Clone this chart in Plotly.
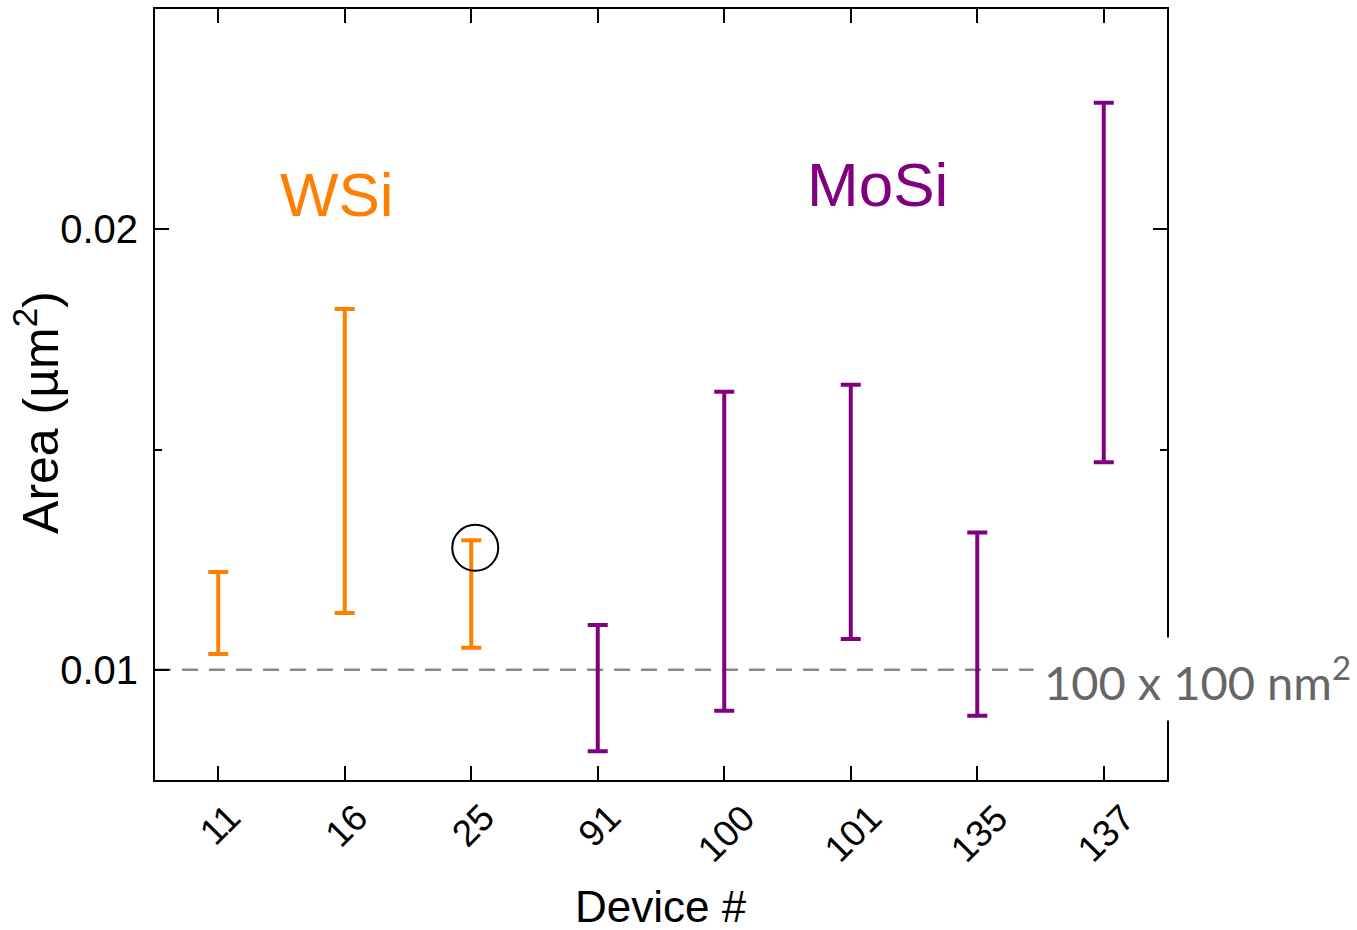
import plotly.graph_objects as go

devices = ["11", "16", "25", "91", "100", "101", "135", "137"]
area_low = [0.01036, 0.01129, 0.01050, 0.00815, 0.00907, 0.01070, 0.00896, 0.01471]
area_high = [0.01222, 0.01819, 0.01294, 0.01102, 0.01631, 0.01647, 0.01312, 0.02287]
material = ["WSi", "WSi", "WSi", "MoSi", "MoSi", "MoSi", "MoSi", "MoSi"]
colors = {"WSi": "#FF8000", "MoSi": "#800080"}
reference_area = 0.01
circled_device = "25"
circled_value = 0.01277

PL, PR, PT, PB = 155, 1167, 7, 780
PW, PH = PR - PL, PB - PT


def px(xp):
    return (xp - PL) / PW


def py(yp):
    return (PB - yp) / PH


fig = go.Figure()
for mat in ["WSi", "MoSi"]:
    xs, mids, up, dn = [], [], [], []
    for d, lo, hi, m in zip(devices, area_low, area_high, material):
        if m != mat:
            continue
        c = (lo + hi) / 2
        xs.append(d)
        mids.append(c)
        up.append(hi - c)
        dn.append(c - lo)
    fig.add_trace(go.Scatter(
        x=xs, y=mids, mode="markers",
        marker=dict(size=0.1, color=colors[mat], opacity=0),
        error_y=dict(type="data", symmetric=False, array=up, arrayminus=dn,
                     color=colors[mat], thickness=4, width=10),
        showlegend=False, hoverinfo="skip"))

fig.add_shape(type="line", xref="paper", yref="y", x0=0, x1=1,
              y0=reference_area, y1=reference_area,
              line=dict(color="#888888", width=2.5, dash="16px,11px"), layer="below")

idx = devices.index(circled_device)
fig.add_shape(type="circle", xref="x", yref="y", xsizemode="pixel", ysizemode="pixel",
              xanchor=idx, yanchor=circled_value, x0=-19, x1=27, y0=-23, y1=23,
              line=dict(color="black", width=2))

fig.update_xaxes(type="category", categoryorder="array", categoryarray=devices,
                 range=[-0.5, 7.5], showline=True, linecolor="black", linewidth=2,
                 mirror="ticks", ticks="inside", ticklen=14, tickwidth=2, tickcolor="black",
                 showticklabels=False, showgrid=False, zeroline=False,
                 minor=dict(ticks="inside", ticklen=7, tickwidth=2, tickcolor="black",
                            showgrid=False))
fig.update_yaxes(range=[0.0075, 0.025], tickvals=[0.01, 0.02], ticktext=["0.01", "0.02"],
                 showline=True, linecolor="black", linewidth=2, mirror="ticks",
                 ticks="inside", ticklen=14, tickwidth=2, tickcolor="black",
                 tickfont=dict(family="Liberation Sans, Arial", size=40, color="black"),
                 showgrid=False, zeroline=False,
                 minor=dict(tickvals=[0.015], ticks="inside", ticklen=7, tickwidth=2,
                            tickcolor="black", showgrid=False),
                 ticklabelstandoff=7)

# rotated category labels, centred under each tick
for i, d in enumerate(devices):
    fig.add_annotation(text=d, xref="x", yref="paper", x=i, y=py(794),
                       xanchor="center", yanchor="top", xshift=2, textangle=-45,
                       showarrow=False,
                       font=dict(family="Liberation Sans, Arial", size=37, color="black"))

fig.add_annotation(text="WSi", xref="paper", yref="y", x=px(337), y=0.02079,
                   xanchor="center", yanchor="middle", showarrow=False,
                   font=dict(family="Liberation Sans, Arial", size=62, color=colors["WSi"]))
fig.add_annotation(text="MoSi", xref="paper", yref="y", x=px(877), y=0.02102,
                   xanchor="center", yanchor="middle", showarrow=False,
                   font=dict(family="Liberation Sans, Arial", size=62, color=colors["MoSi"]))
fig.add_annotation(text="100 x 100 nm<sup>2</sup>", xref="paper", yref="y",
                   x=px(1197), y=reference_area, yshift=-9, xanchor="center",
                   yanchor="middle", showarrow=False, bgcolor="white", borderpad=10,
                   font=dict(family="Lato, Open Sans", size=47, color="#666666"))
fig.add_annotation(text="Area (µm<sup>2</sup>)", xref="paper", yref="paper",
                   x=px(37), y=py(412), xanchor="center", yanchor="middle",
                   textangle=-90, showarrow=False,
                   font=dict(family="Liberation Sans, Arial", size=50, color="black"))
fig.add_annotation(text="Device #", xref="paper", yref="paper",
                   x=0.5, y=py(907), xanchor="center", yanchor="middle", showarrow=False,
                   font=dict(family="Liberation Sans, Arial", size=44, color="black"))

fig.update_layout(width=1357, height=930, plot_bgcolor="white", paper_bgcolor="white",
                  margin=dict(l=PL, r=1357 - PR, t=PT, b=930 - PB), showlegend=False)

fig.write_html("out.html")
